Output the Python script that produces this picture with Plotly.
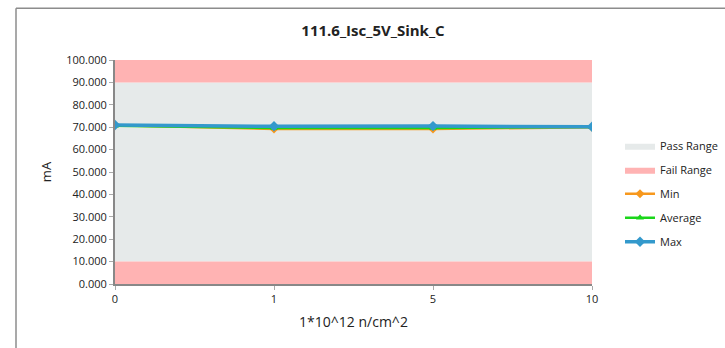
import plotly.graph_objects as go

categories = ["0", "1", "5", "10"]
min_vals = [70.9, 69.2, 69.2, 70.0]
avg_vals = [70.6, 69.6, 69.6, 70.1]
max_vals = [71.0, 70.4, 70.5, 70.2]
pass_range = [10, 90]
fail_low = [0, 10]
fail_high = [90, 100]

xi = list(range(len(categories)))
x0, x1 = xi[0], xi[-1]

W, H = 725, 348
L, R, T, B = 115, 592, 59.7, 283.7
font = "Open Sans"

fig = go.Figure()
fig.add_trace(go.Scatter(
    x=[x0, x1, x1, x0, x0], y=[pass_range[0], pass_range[0], pass_range[1], pass_range[1], pass_range[0]],
    fill="toself", fillcolor="#E6EAEA", mode="lines", line=dict(width=0, color="#E6EAEA"),
    name="Pass Range", legendgroup="a", hoverinfo="skip"))
fig.add_trace(go.Scatter(
    x=[x0, x1, x1, x0, x0, None, x0, x1, x1, x0, x0],
    y=[fail_low[0], fail_low[0], fail_low[1], fail_low[1], fail_low[0], None,
       fail_high[0], fail_high[0], fail_high[1], fail_high[1], fail_high[0]],
    fill="toself", fillcolor="#FFB3B3", mode="lines", line=dict(width=0, color="#FFB3B3"),
    name="Fail Range", legendgroup="b", hoverinfo="skip"))
fig.add_trace(go.Scatter(
    x=xi, y=min_vals, name="Min", mode="lines+markers", legendgroup="c",
    line=dict(color="#F7981D", width=2.5), marker=dict(symbol="diamond", size=7, color="#F7981D")))
fig.add_trace(go.Scatter(
    x=xi, y=avg_vals, name="Average", mode="lines+markers", legendgroup="d",
    line=dict(color="#1AD61A", width=2.5), marker=dict(symbol="triangle-up", size=7, color="#1AD61A")))
fig.add_trace(go.Scatter(
    x=xi, y=max_vals, name="Max", mode="lines+markers", legendgroup="e",
    line=dict(color="#3399CC", width=3.5), marker=dict(symbol="diamond", size=8, color="#3399CC")))

pw, ph = R - L, B - T
fx = lambda px: (px - L) / pw
fy = lambda py: (B - py) / ph

fig.add_shape(type="line", xref="paper", yref="paper", x0=fx(16), x1=fx(W + 5), y0=fy(8), y1=fy(8),
              line=dict(color="#8C8C8C", width=1.5))
fig.add_shape(type="line", xref="paper", yref="paper", x0=fx(16), x1=fx(16), y0=fy(8), y1=fy(H + 5),
              line=dict(color="#8C8C8C", width=1.5))

fig.update_layout(
    width=W, height=H,
    margin=dict(l=L, r=W - R, t=T, b=H - B, pad=0, autoexpand=False),
    paper_bgcolor="white", plot_bgcolor="white",
    font=dict(family=font, size=11, color="#222"),
    title=dict(text="<b>111.6_Isc_5V_Sink_C</b>", x=373 / W, xanchor="center", xref="container",
               y=1 - 31 / H, yanchor="middle", yref="container", font=dict(size=15, family=font)),
    xaxis=dict(tickmode="array", tickvals=xi, ticktext=categories, range=[x0, x1],
               showgrid=False, zeroline=False, showline=True, linecolor="#888", linewidth=2,
               ticks="outside", ticklen=4, tickcolor="#aaa", automargin=False,
               title=dict(text="1*10^12 n/cm^2", font=dict(size=14), standoff=12)),
    yaxis=dict(range=[0, 100], dtick=10, tickformat=".3f", showgrid=False, zeroline=False,
               showline=True, linecolor="#888", linewidth=2, ticks="outside", ticklen=4, tickcolor="#aaa",
               automargin=False,
               title=dict(text="mA", font=dict(size=13), standoff=12)),
    legend=dict(x=fx(620), y=fy(131), xanchor="left", yanchor="top", font=dict(size=11),
                tracegroupgap=5, itemwidth=30, bgcolor="rgba(0,0,0,0)"),
    showlegend=True,
)

fig.write_html("out.html", post_script="document.body.style.margin='0';",
               config={"displayModeBar": False})
